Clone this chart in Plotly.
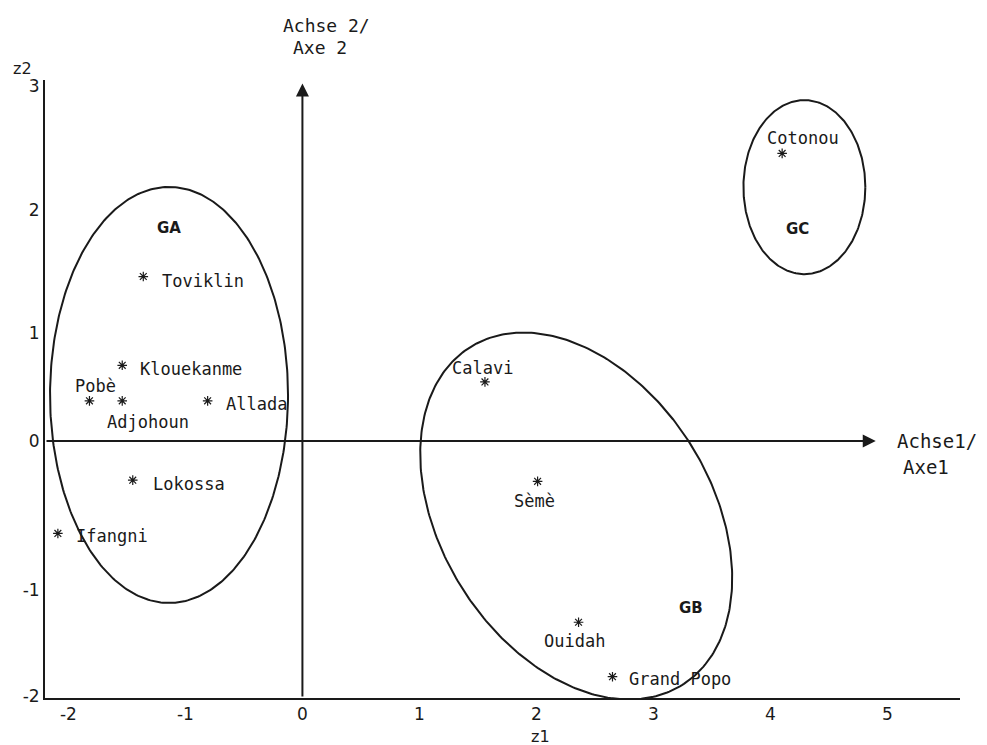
import numpy as np
import plotly.graph_objects as go

# ---- data ----
cities = ["Toviklin", "Klouekanme", "Pobè", "Adjohoun", "Allada", "Lokossa",
          "Ifangni", "Calavi", "Sèmè", "Ouidah", "Grand Popo", "Cotonou"]
z1 = [-1.36, -1.54, -1.82, -1.54, -0.81, -1.45, -2.09, 1.56, 2.01, 2.36, 2.65, 4.10]
z2 = [1.39, 0.64, 0.34, 0.34, 0.34, -0.33, -0.78, 0.50, -0.34, -1.53, -1.99, 2.43]

groups = ["GA", "GB", "GC"]
group_x = [-1.14, 3.32, 4.23]
group_y = [1.80, -1.41, 1.79]

# ellipses around groups: centre, semi-axes, rotation (degrees)
ell_cx = [-1.14, 2.34, 4.29]
ell_cy = [0.39, -0.633, 2.145]
ell_a = [1.017, 1.69, 0.521]
ell_b = [1.757, 1.15, 0.735]
ell_rot = [0.0, -57.0, 0.0]

x_ticks = [-2, -1, 0, 1, 2, 3, 4, 5]
x_tick_text = ["-2", "-1", "0", "1", "2", "3", "4", "5"]
y_tick_pos = [-2.155, -1.26, 0, 0.913, 1.953, 3.0]
y_tick_text = ["-2", "-1", "0", "1", "2", "3"]

# ---- label placement (pixels) ----
lab_anchor = ["left", "left", "center", "center", "left", "left",
              "left", "center", "center", "center", "left", "center"]
lab_dx = [17, 16, 6, 26, 16, 18, 16, -2, -3, -4, 15, 21]
lab_dy = [-4, -4, 15, -21, -3, -4, -3, 14, -20, -19, -2, 15]

MONO = "DejaVu Sans Mono"
SANS = "DejaVu Sans"
INK = "#1a1a1a"

fig_w, fig_h = 987, 745
L, R, T, B = 45, 27, 80, 47
pw, ph = fig_w - L - R, fig_h - T - B

fig = go.Figure()

# ellipses
t = np.linspace(0, 2 * np.pi, 361)
for cx, cy, a, b, r in zip(ell_cx, ell_cy, ell_a, ell_b, ell_rot):
    th = np.deg2rad(r)
    ex = cx + a * np.cos(t) * np.cos(th) - b * np.sin(t) * np.sin(th)
    ey = cy + a * np.cos(t) * np.sin(th) + b * np.sin(t) * np.cos(th)
    fig.add_trace(go.Scatter(x=ex, y=ey, mode="lines",
                             line=dict(color=INK, width=2),
                             hoverinfo="skip", showlegend=False))

# city points
fig.add_trace(go.Scatter(x=z1, y=z2, mode="markers", text=cities,
                         marker=dict(symbol="asterisk-open", size=8, color=INK,
                                     line=dict(color=INK, width=1.2)),
                         showlegend=False))

annotations = []
for name, x, y, anc, dx, dy in zip(cities, z1, z2, lab_anchor, lab_dx, lab_dy):
    annotations.append(dict(x=x, y=y, xref="x", yref="y", text=name,
                            showarrow=False, xanchor=anc, yanchor="middle",
                            xshift=dx, yshift=dy,
                            font=dict(family=MONO, size=17, color=INK)))

for g, x, y in zip(groups, group_x, group_y):
    annotations.append(dict(x=x, y=y, xref="x", yref="y", text="<b>%s</b>" % g,
                            showarrow=False,
                            font=dict(family=SANS, size=15, color=INK)))

# axis arrows
annotations.append(dict(x=0, y=3.02, ax=0, ay=-2.17, xref="x", yref="y",
                        axref="x", ayref="y", text="", showarrow=True,
                        arrowhead=2, arrowsize=1.3, arrowwidth=2, arrowcolor=INK))
annotations.append(dict(x=4.9, y=0, ax=-2.2, ay=0, xref="x", yref="y",
                        axref="x", ayref="y", text="", showarrow=True,
                        arrowhead=2, arrowsize=1.3, arrowwidth=2, arrowcolor=INK))

# free texts at pixel positions (page coordinates)
extra_text = [
    ("Achse 2/", 326, 25, MONO, 18),
    ("Axe 2", 320, 48, MONO, 18),
    ("Achse1/", 937, 441, MONO, 19),
    ("Axe1", 926, 467, MONO, 19),
    ("z2", 22, 68, SANS, 16),
    ("z1", 540, 736, SANS, 16),
]
for txt, xp, yp, fam, sz in extra_text:
    annotations.append(dict(x=(xp - L) / pw, y=1 - (yp - T) / ph,
                            xref="paper", yref="paper",
                            text=txt, showarrow=False, xanchor="center",
                            yanchor="middle",
                            font=dict(family=fam, size=sz, color=INK)))

fig.update_layout(
    width=fig_w, height=fig_h,
    margin=dict(l=L, r=R, t=T, b=B),
    plot_bgcolor="white", paper_bgcolor="white",
    annotations=annotations,
    xaxis=dict(range=[-2.2, 5.62], tickvals=x_ticks, ticktext=x_tick_text,
               showgrid=False, zeroline=False, showline=True,
               linecolor=INK, linewidth=2, ticks="",
               tickfont=dict(family=SANS, size=17, color=INK)),
    yaxis=dict(range=[-2.17, 3.05], tickvals=y_tick_pos, ticktext=y_tick_text,
               showgrid=False, zeroline=False, showline=True,
               linecolor=INK, linewidth=2, ticks="",
               tickfont=dict(family=SANS, size=17, color=INK)),
)

fig.write_html("out.html", config={"displayModeBar": False},
               post_script="document.body.style.margin='0';document.body.style.overflow='hidden';")
